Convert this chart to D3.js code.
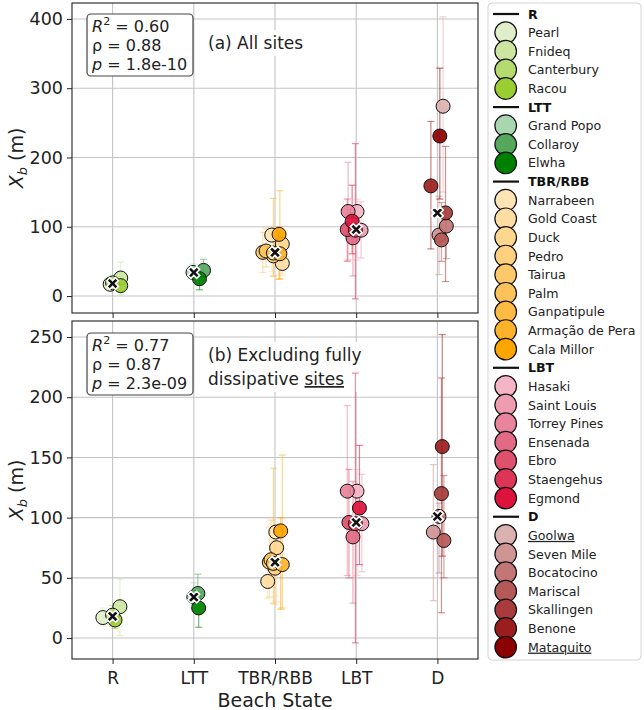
<!DOCTYPE html>
<html><head><meta charset="utf-8">
<script src="https://cdn.jsdelivr.net/npm/d3@7"></script>
<style>
html,body{margin:0;padding:0;background:#fff;}
svg{display:block;font-family:"DejaVu Sans",sans-serif;}
</style></head>
<body><svg id="chart" width="644" height="710"></svg>
<script>
// ---------- DATA ----------
const categories = ["R","LTT","TBR/RBB","LBT","D"];
const siteNames = ["Pearl","Fnideq","Canterbury","Racou",
  "Grand Popo","Collaroy","Elwha",
  "Narrabeen","Gold Coast","Duck","Pedro","Tairua","Palm","Ganpatipule","Armação de Pera","Cala Millor",
  "Hasaki","Saint Louis","Torrey Pines","Ensenada","Ebro","Staengehus","Egmond",
  "Goolwa","Seven Mile","Bocatocino","Mariscal","Skallingen","Benone","Mataquito"];
const siteState = [0,0,0,0, 1,1,1, 2,2,2,2,2,2,2,2,2, 3,3,3,3,3,3,3, 4,4,4,4,4,4,4];
const xbValues = [17,26,19,15, 34,37,25, 88,47,75,58,63,65,62,61,89, 122,95,122,84,96,95,108, 274,88,101,81,120,159,231];
const xbLow    = [10,2,10,8, 25,22,9, 35,33,30,28,34,42,29,25,24, 52,55,52,29,50,-4,61, 150,31,54,50,21,68,140];
const xbHigh   = [25,49,27,22, 46,53,38, 97,60,90,80,92,98,141,152,100, 140,136,193,130,140,220,160, 403,144,112,135,216,252,329];
const jitterA  = [-0.03,0.1,0,0.1, -0.01,0.12,0.07, -0.04,0.09,0.09,-0.02,-0.15,-0.11,-0.02,0.06,0.05, 0.01,0.06,-0.1,-0.04,-0.11,-0.01,-0.05, 0.07,0.02,0.11,0.05,0.1,-0.08,0.03];
const jitterB  = [-0.12,0.09,0,0.03, 0,0.05,0.06, 0.01,-0.09,0.02,0,-0.07,-0.05,-0.02,0.09,0.07, 0.01,0.07,-0.11,-0.04,-0.09,-0.01,0.04, 0,-0.05,0.02,0.08,0.05,0.06,0];
const fullyDissipative = ["Goolwa","Mataquito"];
const yTicksA = [0,100,200,300,400];
const yTicksB = [0,50,100,150,200,250];
const statsA = ["0.60","0.88","1.8e-10"];
const statsB = ["0.77","0.87","2.3e-09"];

// ---------- STYLE ----------
const siteColors = ["#e0efca","#cce6a2","#b4da70","#9acd32",
  "#a9d6af","#55a75e","#008000",
  "#ffe4b5","#fedda3","#fed78f","#fed07f","#fdc86b","#fdc25a","#feba42","#feb22a","#ffa500",
  "#f4b6c6","#ee9db1","#e8849b","#e26a84","#df506d","#dd3556","#dc143c",
  "#dcb1b1","#cf9494","#c27676","#b55858","#a83b3b","#9b1e1e","#8b0000"];

const svg = d3.select("#chart");
const x = d3.scaleLinear().domain([-0.5,4.5]).range([72,478]);

const panels = [
  {top:3, bottom:313, domain:[-24.5,423], ticks:yTicksA, jitter:jitterA, stats:statsA, exclude:[], label:["(a) All sites"], showX:false},
  {top:321, bottom:659, domain:[-17.4,263.3], ticks:yTicksB, jitter:jitterB, stats:statsB, exclude:fullyDissipative, label:["(b) Excluding fully","dissipative "], showX:true}
];

const sites = siteNames.map((n,i)=>({name:n, state:siteState[i], v:xbValues[i], lo:xbLow[i], hi:xbHigh[i], color:siteColors[i], ja:jitterA[i], jb:jitterB[i]}));

panels.forEach((p,pi)=>{
  const y = d3.scaleLinear().domain(p.domain).range([p.bottom,p.top]);
  const g = svg.append("g");
  const data = sites.filter(s=>!p.exclude.includes(s.name));
  // grid
  g.selectAll(".gy").data(p.ticks).join("line")
    .attr("x1",72).attr("x2",478).attr("y1",d=>y(d)).attr("y2",d=>y(d))
    .attr("stroke","#c4c4c4").attr("stroke-width",1.1);
  g.selectAll(".gx").data(d3.range(categories.length)).join("line")
    .attr("x1",d=>x(d)).attr("x2",d=>x(d)).attr("y1",p.top).attr("y2",p.bottom)
    .attr("stroke","#c4c4c4").attr("stroke-width",1.1);

  // annotation label with white bg
  const lab = g.append("g");
  const lbg = lab.append("rect").attr("fill","#fff");
  const lt = lab.append("text").attr("font-size",17).attr("fill","#222");
  const baseY = pi===0 ? 49 : 361;
  lt.append("tspan").attr("x",208).attr("y",baseY).text(p.label[0]);
  if(p.label.length>1){
    lt.append("tspan").attr("x",208).attr("y",baseY+24).text(p.label[1]);
    lt.append("tspan").attr("text-decoration","underline").text("sites");
  }
  const bb = lt.node().getBBox();
  lbg.attr("x",bb.x-3).attr("y",bb.y-3).attr("width",bb.width+6).attr("height",bb.height+6);

  // stats box
  const sb = g.append("g");
  const by0 = pi===0 ? 14 : 333;
  sb.append("rect").attr("x",87).attr("y",by0).attr("width",106).attr("height",62)
    .attr("rx",4).attr("fill","#fff").attr("stroke","#444").attr("stroke-width",1.2);
  const st = sb.append("text").attr("font-size",16).attr("fill","#222");
  const l1 = st.append("tspan").attr("x",92).attr("y",by0+18);
  l1.append("tspan").attr("font-style","italic").text("R");
  l1.append("tspan").attr("font-size",11).attr("dy",-7).text("2");
  l1.append("tspan").attr("dy",7).text(" = "+p.stats[0]);
  st.append("tspan").attr("x",92).attr("y",by0+37).text("ρ = "+p.stats[1]);
  const l3 = st.append("tspan").attr("x",92).attr("y",by0+56);
  l3.append("tspan").attr("font-style","italic").text("p");
  l3.append("tspan").text(" = "+p.stats[2]);

  // error bars
  const px = s => x(s.state + (pi===0?s.ja:s.jb));
  const eb = g.selectAll(".eb").data(data).join("g")
    .attr("stroke",d=>d.color).attr("stroke-opacity",0.55).attr("stroke-width",1.2);
  eb.append("line").attr("x1",px).attr("x2",px).attr("y1",d=>y(d.lo)).attr("y2",d=>y(d.hi));
  eb.append("line").attr("x1",d=>px(d)-3.5).attr("x2",d=>px(d)+3.5).attr("y1",d=>y(d.lo)).attr("y2",d=>y(d.lo));
  eb.append("line").attr("x1",d=>px(d)-3.5).attr("x2",d=>px(d)+3.5).attr("y1",d=>y(d.hi)).attr("y2",d=>y(d.hi));

  // points
  g.selectAll(".pt").data(data).join("circle")
    .attr("cx",px).attr("cy",d=>y(d.v)).attr("r",7)
    .attr("fill",d=>d.color).attr("fill-opacity",0.92)
    .attr("stroke","#111").attr("stroke-width",1);

  // medians
  const med = categories.map((c,ci)=>({ci, m:d3.median(data.filter(d=>d.state===ci), d=>d.v)}));
  g.selectAll(".md").data(med).join("path")
    .attr("d", d3.symbol(d3.symbolCross, 85)())
    .attr("transform", d=>`translate(${x(d.ci)},${y(d.m)}) rotate(45)`)
    .attr("fill","#111").attr("stroke","#fff").attr("stroke-width",1.6);

  // frame
  g.append("rect").attr("x",72).attr("y",p.top).attr("width",406).attr("height",p.bottom-p.top)
    .attr("fill","none").attr("stroke","#222").attr("stroke-width",1.1);

  // axes
  const ay = g.append("g").attr("transform","translate(72,0)")
    .call(d3.axisLeft(y).tickValues(p.ticks).tickSize(5).tickPadding(4));
  ay.select(".domain").remove();
  ay.selectAll("text").attr("font-size",17.5).attr("fill","#222").attr("font-family","DejaVu Sans");
  ay.selectAll("line").attr("stroke","#222");
  const ax = g.append("g").attr("transform",`translate(0,${p.bottom})`)
    .call(d3.axisBottom(x).tickValues(d3.range(categories.length)).tickFormat(i=>p.showX?categories[i]:"").tickSize(5).tickPadding(8));
  ax.select(".domain").remove();
  ax.selectAll("text").attr("font-size",17).attr("fill","#222").attr("font-family","DejaVu Sans");
  ax.selectAll("line").attr("stroke","#222");

  // y label
  const yl = svg.append("text").attr("transform",`translate(23,${(p.top+p.bottom)/2}) rotate(-90)`)
    .attr("text-anchor","middle").attr("font-size",19).attr("fill","#222");
  yl.append("tspan").attr("font-style","italic").text("X");
  yl.append("tspan").attr("font-style","italic").attr("font-size",13).attr("dy",4).text("b");
  yl.append("tspan").attr("dy",-4).text(" (m)");
});

svg.append("text").attr("x",275).attr("y",707).attr("text-anchor","middle")
  .attr("font-size",19).attr("fill","#222").text("Beach State");

// ---------- LEGEND ----------
const lg = svg.append("g");
lg.append("rect").attr("x",488).attr("y",3).attr("width",153).attr("height",657)
  .attr("rx",4).attr("fill","#fff").attr("stroke","#d4d4d4").attr("stroke-width",1);
const rows = [];
categories.forEach((c,ci)=>{
  rows.push({header:true, name:c});
  sites.filter(s=>s.state===ci).forEach(s=>rows.push({header:false, name:s.name, color:s.color}));
});
const rowY = i => 14 + i*18.62;
rows.forEach((r,i)=>{
  const yy = rowY(i);
  if(r.header){
    lg.append("line").attr("x1",493).attr("x2",519).attr("y1",yy).attr("y2",yy)
      .attr("stroke","#111").attr("stroke-width",2.2);
    lg.append("text").attr("x",528).attr("y",yy).attr("dy","0.36em").attr("font-size",12.6)
      .attr("font-weight","bold").attr("fill","#111").text(r.name);
  } else {
    lg.append("circle").attr("cx",505.7).attr("cy",yy).attr("r",10.8)
      .attr("fill",r.color).attr("stroke","#111").attr("stroke-width",1.2);
    lg.append("text").attr("x",528).attr("y",yy).attr("dy","0.36em").attr("font-size",12.6)
      .attr("fill","#222")
      .attr("text-decoration", fullyDissipative.includes(r.name)?"underline":null)
      .text(r.name);
  }
});
</script></body></html>
